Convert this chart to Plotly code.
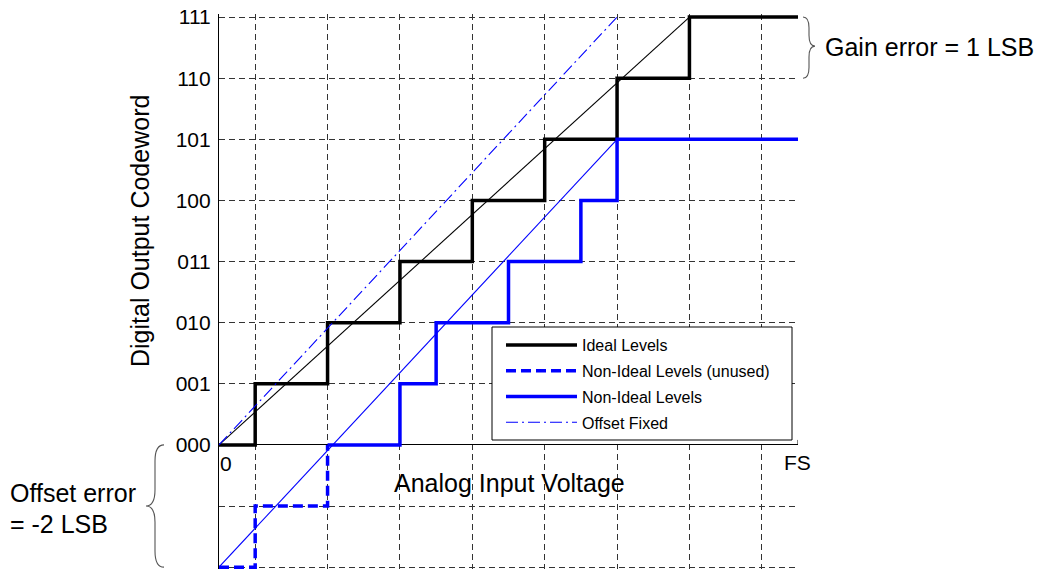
import plotly.graph_objects as go

# ---- data (input in LSB units, output codes) ----
code_labels = ["000", "001", "010", "011", "100", "101", "110", "111"]
code_values = [0, 1, 2, 3, 4, 5, 6, 7]

ideal_x = [0, 0.5, 1.5, 2.5, 3.5, 4.5, 5.5, 6.5, 8]
ideal_y = [0, 1, 2, 3, 4, 5, 6, 7, 7]

unused_x = [0, 0.5, 1.5]
unused_y = [-2, -1, 0]

nonideal_x = [1.5, 2.5, 3.0, 4.0, 5.0, 5.5, 8]
nonideal_y = [0, 1, 2, 3, 4, 5, 5]

offset_fixed_x = [0, 5.5]
offset_fixed_y = [0, 7]

ideal_line_x = [0, 6.5]
ideal_line_y = [0, 7]

nonideal_line_x = [0, 5.5]
nonideal_line_y = [-2, 5]

grid_x = [0.5, 1.5, 2.5, 3.5, 4.5, 5.5, 6.5, 7.5]
grid_y = [-2, -1, 0, 1, 2, 3, 4, 5, 6, 7]

X_RANGE = [0, 8]
Y_RANGE = [-2.03, 7.05]

# ---- layout geometry (pixels) ----
FIG_W, FIG_H = 1045, 570
L, T, W, H = 219, 14, 579, 555
R = FIG_W - L - W
B = FIG_H - T - H

FONT = "Liberation Sans, Arial, sans-serif"
BLUE = "#0000ff"


def px_x(v):
    return L + (v - X_RANGE[0]) / (X_RANGE[1] - X_RANGE[0]) * W


def px_y(v):
    return T + (Y_RANGE[1] - v) / (Y_RANGE[1] - Y_RANGE[0]) * H


def paper_x(p):
    return (p - L) / W


def paper_y(p):
    return (T + H - p) / H


def brace_path(x0, y_top, y_bot, depth, y_tip=None):
    """Vertical curly brace in pixels; depth > 0 points right, < 0 left."""
    if y_tip is None:
        y_tip = (y_top + y_bot) / 2
    xm = x0 + depth / 2
    xt = x0 + depth
    r = min(abs(depth) * 0.9, (y_bot - y_top) / 4)
    pts = [
        ("M", [(x0, y_top)]),
        ("Q", [(xm, y_top), (xm, y_top + r)]),
        ("L", [(xm, y_tip - r)]),
        ("Q", [(xm, y_tip), (xt, y_tip)]),
        ("Q", [(xm, y_tip), (xm, y_tip + r)]),
        ("L", [(xm, y_bot - r)]),
        ("Q", [(xm, y_bot), (x0, y_bot)]),
    ]
    out = []
    for cmd, coords in pts:
        out.append(cmd + " " + " ".join(f"{paper_x(a):.5f},{paper_y(b):.5f}" for a, b in coords))
    return " ".join(out)


fig = go.Figure()

# thin transfer lines (no legend entries)
fig.add_trace(go.Scatter(x=ideal_line_x, y=ideal_line_y, mode="lines",
                         line=dict(color="black", width=1.1), showlegend=False,
                         hoverinfo="skip"))
fig.add_trace(go.Scatter(x=nonideal_line_x, y=nonideal_line_y, mode="lines",
                         line=dict(color=BLUE, width=1.1), showlegend=False,
                         hoverinfo="skip"))

# staircases and offset-corrected line
fig.add_trace(go.Scatter(x=ideal_x, y=ideal_y, mode="lines", name="Ideal Levels",
                         line=dict(color="black", width=3.5, shape="hv"),
                         legendgroup="a"))
fig.add_trace(go.Scatter(x=unused_x, y=unused_y, mode="lines",
                         name="Non-Ideal Levels (unused)",
                         line=dict(color=BLUE, width=3.5, shape="hv", dash="10px,5px"),
                         legendgroup="b"))
fig.add_trace(go.Scatter(x=nonideal_x, y=nonideal_y, mode="lines",
                         name="Non-Ideal Levels",
                         line=dict(color=BLUE, width=3.5, shape="hv"),
                         legendgroup="c"))
fig.add_trace(go.Scatter(x=offset_fixed_x, y=offset_fixed_y, mode="lines",
                         name="Offset Fixed",
                         line=dict(color=BLUE, width=1.1, dash="12px,4px,2px,4px"),
                         legendgroup="d"))

grid_style = dict(showgrid=True, gridcolor="#333333", gridwidth=1, griddash="6px,4px")

fig.update_xaxes(range=X_RANGE, tickvals=grid_x, showticklabels=False, ticks="",
                 zeroline=False, showline=False, **grid_style)
fig.update_yaxes(range=Y_RANGE, tickvals=grid_y,
                 ticktext=["", ""] + code_labels, ticks="",
                 ticklabelstandoff=3,
                 tickfont=dict(family=FONT, size=21, color="black"),
                 showline=True, linecolor="black", linewidth=1.2,
                 zeroline=True, zerolinecolor="black", zerolinewidth=1,
                 **grid_style)

# legend frame (white box under the legend entries)
LEG_X0, LEG_X1, LEG_Y0, LEG_Y1 = 492, 792, 327, 440

shapes = [
    dict(type="rect", xref="paper", yref="paper", layer="above",
         x0=paper_x(LEG_X0), x1=paper_x(LEG_X1),
         y0=paper_y(LEG_Y0), y1=paper_y(LEG_Y1),
         fillcolor="white", line=dict(color="black", width=1)),
    # end tick of the input axis at full scale
    dict(type="line", xref="x", yref="paper", x0=8, x1=8,
         y0=paper_y(px_y(0)), y1=paper_y(px_y(0) - 5),
         line=dict(color="black", width=1)),
    # gain error brace (spans codes 110..111)
    dict(type="path", xref="paper", yref="paper",
         path=brace_path(px_x(8) + 5, px_y(7), px_y(6), 12, px_y(6.5) - 1.5),
         line=dict(color="#555555", width=1.1)),
    # offset error brace (spans codes -2..000)
    dict(type="path", xref="paper", yref="paper",
         path=brace_path(px_x(0) - 55, px_y(0), px_y(-2), -18),
         line=dict(color="#555555", width=1.1)),
]

annot_font = dict(family=FONT, size=25, color="black")
annotations = [
    dict(text="Digital Output Codeword", xref="paper", yref="paper",
         x=paper_x(140), y=paper_y(231), textangle=-90, showarrow=False,
         xanchor="center", yanchor="middle", font=annot_font),
    dict(text="Analog Input Voltage", xref="paper", yref="paper",
         x=paper_x(509), y=paper_y(483), showarrow=False,
         xanchor="center", yanchor="middle", font=annot_font),
    dict(text="0", xref="paper", yref="paper",
         x=paper_x(218), y=paper_y(464), showarrow=False,
         xanchor="left", yanchor="middle", font=dict(family=FONT, size=21, color="black")),
    dict(text="FS", xref="paper", yref="paper",
         x=paper_x(797), y=paper_y(462), showarrow=False,
         xanchor="center", yanchor="middle", font=dict(family=FONT, size=21, color="black")),
    dict(text="Gain error = 1 LSB", xref="paper", yref="paper",
         x=paper_x(823), y=paper_y(47), showarrow=False,
         xanchor="left", yanchor="middle", font=annot_font),
    dict(text="Offset error", xref="paper", yref="paper",
         x=paper_x(8), y=paper_y(493), showarrow=False,
         xanchor="left", yanchor="middle", font=annot_font),
    dict(text="= -2 LSB", xref="paper", yref="paper",
         x=paper_x(8), y=paper_y(524), showarrow=False,
         xanchor="left", yanchor="middle", font=annot_font),
]

fig.update_layout(
    width=FIG_W, height=FIG_H,
    margin=dict(l=L, r=R, t=T, b=B, pad=0),
    paper_bgcolor="white", plot_bgcolor="white",
    showlegend=True,
    legend=dict(x=paper_x(501), y=paper_y(LEG_Y0 + 1), xanchor="left", yanchor="top",
                bgcolor="rgba(0,0,0,0)", borderwidth=0,
                font=dict(family=FONT, size=16, color="black"),
                itemwidth=71, tracegroupgap=2, traceorder="grouped"),
    shapes=shapes,
    annotations=annotations,
)

fig.write_html("out.html")
